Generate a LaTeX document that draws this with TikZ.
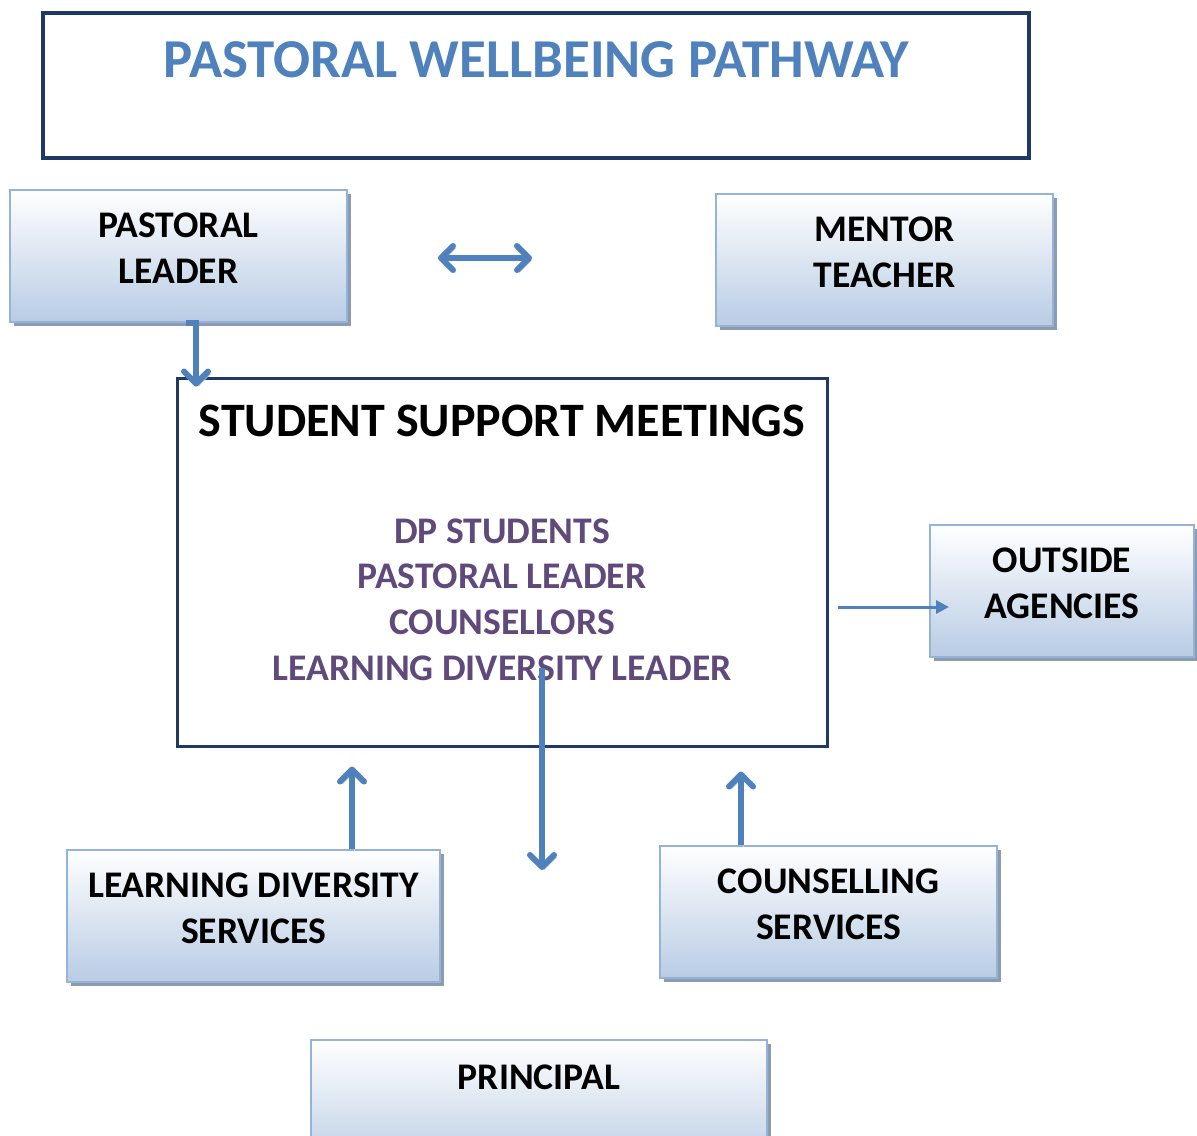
\documentclass[tikz,border=0pt]{standalone}
\usepackage{fontspec}
\setmainfont{Carlito}
\usetikzlibrary{arrows.meta,shadows,positioning}

\definecolor{headblue}{HTML}{4F81BD}
\definecolor{navy}{HTML}{1F3864}
\definecolor{boxline}{HTML}{95B3D7}
\definecolor{boxfill}{HTML}{B8CCE4}
\definecolor{boxshade}{HTML}{8D9BB0}
\definecolor{arrowshade}{HTML}{C8C8C8}
\definecolor{listpurple}{HTML}{604A7B}

\begin{document}
\begin{tikzpicture}[x=0.5pt,y=-0.5pt,
 box/.style={rectangle,draw=boxline,line width=1pt,top color=white,bottom color=boxfill,
  drop shadow={shadow xshift=2pt,shadow yshift=-2pt,fill=boxshade,opacity=1},
  minimum height=66pt,align=center,text depth=7.5pt,
  font=\fontsize{18.8}{23}\selectfont\bfseries},
 frame/.style={rectangle,draw=navy,fill=white},
 flow/.style={draw=headblue,line width=3pt,-{Straight Barb[round,length=6pt,width=12pt]},
  preaction={draw=arrowshade,transform canvas={shift={(1.2pt,-1.2pt)}}}},
 thinflow/.style={draw=headblue,line width=1.5pt,-{Triangle[length=6.5pt,width=6.5pt]}}]
 \useasboundingbox (0,0) rectangle (1197,1135);
 % heading
 \node[frame,line width=2pt,minimum width=493pt,minimum height=72.5pt] (head) at (536,85.5) {};
 \node[text=headblue,font=\fontsize{27.4}{33}\selectfont\bfseries] (ttl) at (536,60) {PASTORAL WELLBEING PATHWAY};
 % top row
 \node[box,minimum width=168.5pt] (pl) at (178.5,256) {PASTORAL\\LEADER};
 \node[box,minimum width=168.5pt] (mt) at (884.5,260) {MENTOR\\TEACHER};
 \coordinate (swapl) at (438,258);
 \coordinate (swapr) at (532,258);
 \draw[flow,{Straight Barb[round,length=6pt,width=12pt]}-{Straight Barb[round,length=6pt,width=12pt]}] (swapl) -- (swapr);
 % meeting
 \node[frame,line width=1.5pt,minimum width=325pt,minimum height=184pt] (meet) at (502,562) {};
 \node[font=\fontsize{24}{29}\selectfont\bfseries] (mtitle) at (502,421) {STUDENT SUPPORT MEETINGS};
 \node[text=listpurple,align=center,font=\fontsize{18.8}{22.8}\selectfont\bfseries] (who) at (502,599.5)
  {DP STUDENTS\\PASTORAL LEADER\\COUNSELLORS\\LEARNING DIVERSITY LEADER};
 \node[box,minimum width=132pt] (oa) at (1062,591) {OUTSIDE\\AGENCIES};
 % lower row
 \node[box,minimum width=186.5pt] (lds) at (253.5,916) {LEARNING DIVERSITY\\SERVICES};
 \node[box,minimum width=168.5pt] (cs) at (828.5,912) {COUNSELLING\\SERVICES};
 \node[box,minimum width=228pt,text depth=29pt] (pr) at (539,1106) {PRINCIPAL};
 \coordinate (droptop) at (542,668);
 \coordinate (drop) at (542,870);
 % arrows
 \draw[flow] ([xshift=3.75pt]pl.south) -- ++(10,0) coordinate (bend) -- ([yshift=-5pt]bend |- meet.north);
 \draw[thinflow] ([xshift=4.5pt,yshift=-22.5pt]meet.east) -- ([xshift=10pt,yshift=-8pt]oa.west);
 \draw[flow] (droptop) -- (drop);
 \draw[flow] ([xshift=49.25pt]lds.north) coordinate (ldsup) -- ([yshift=-9.5pt]ldsup |- meet.south);
 \draw[flow] ([xshift=-43.75pt]cs.north) coordinate (csup) -- ([yshift=-12pt]csup |- meet.south);
\end{tikzpicture}
\end{document}
